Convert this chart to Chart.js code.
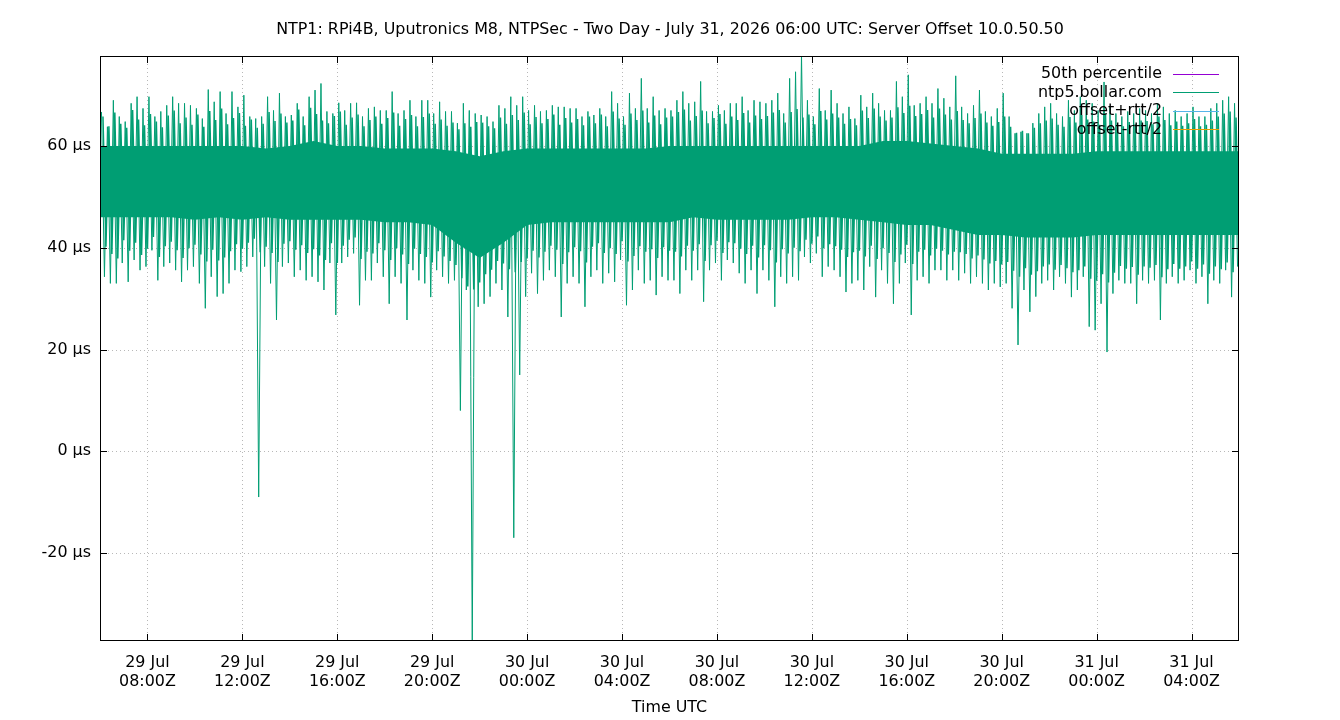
<!DOCTYPE html>
<html><head><meta charset="utf-8">
<script src="https://cdn.jsdelivr.net/npm/chart.js@4.4.1/dist/chart.umd.min.js"></script>
<style>html,body{margin:0;padding:0;background:#fff;}#wrap{width:1340px;height:720px;}</style>
</head><body><div id="wrap"><canvas id="c" width="1340" height="720"></canvas></div>
<script>
const chartTitle = "NTP1: RPi4B, Uputronics M8, NTPSec - Two Day - July 31, 2026 06:00 UTC: Server Offset 10.0.50.50";
const xAxisTitle = "Time UTC";
const xTickHours = [2, 6, 10, 14, 18, 22, 26, 30, 34, 38, 42, 46]; // hours since 29 Jul 06:00Z
const xTickLabels = [["29 Jul","08:00Z"],["29 Jul","12:00Z"],["29 Jul","16:00Z"],["29 Jul","20:00Z"],
  ["30 Jul","00:00Z"],["30 Jul","04:00Z"],["30 Jul","08:00Z"],["30 Jul","12:00Z"],
  ["30 Jul","16:00Z"],["30 Jul","20:00Z"],["31 Jul","00:00Z"],["31 Jul","04:00Z"]];
const yTickValues = [-20, 0, 20, 40, 60];
const yUnit = " µs";
const legendNames = ["50th percentile", "ntp5.bollar.com", "offset+rtt/2", "offset-rtt/2"];
const legendColors = ["#9400d3", "#009e73", "#56b4e9", "#e69f00"];
const sampleStepHours = 0.25;

// ntp5.bollar.com offset (µs): extreme high / low sample in each 15-minute slot
const offsetHigh = [
 66.7,63.8,69,65.8,64.8,68.4,69.7,67.4,69.7,65.8,66.8,68,69.7,68.4,68.4,68,
 67.4,65.4,71.1,68.7,70.7,66.4,70.7,67.7,70,65.8,65.4,65.8,69.7,67,70.4,65.8,
 66.1,68.4,65.8,69.7,71,72.3,66.8,66.4,68.5,67,68.4,68.5,65.8,67.4,67.7,67,
 67,70.7,66.4,67,69,65.8,69,69,66.4,68.7,66.8,66.8,64.5,68.4,67,66.4,
 66.1,65.8,64.8,68,67.4,69.7,68,69.7,67,68,66.8,67,68,67.7,67.7,67.4,
 67.4,65.8,66.8,66.1,67.4,65.8,70.7,68.4,65.8,70.4,67.4,73.3,67.4,69.7,67,67.4,
 67,69,70.7,68.4,68.7,72.7,66.8,66.8,68,67,68.4,68.4,69.7,67,69,68.7,
 68.4,69,70.4,66.4,73.3,74.6,78,69,65.8,71.3,67,71,68.4,66.4,67.7,65.4,
 70,67.7,70.4,68.4,67,67,72.7,69.7,74,68,68.4,69.7,68.4,71.3,69.4,67.7,
 73.8,67.7,66.4,68,71,66.8,65.8,67.4,70.4,65.8,62.5,62.8,62.5,64.5,66.4,67.7,
 68.4,66.4,65.8,69,67,69.7,69,68.4,67,72.6,67.7,66.4,65.8,66.8,66.4,67.4,
 67,66.4,68.4,67.7,66.4,67,65.8,66.4,67.7,65.8,65.8,67.4,68.4,69,69.7,68.4
];
const offsetLow = [
 34.3,33,33,37,33.3,37.6,35.6,36.3,39.5,33.6,36.3,37,35.6,33.3,35.6,36.3,
 33,28.1,34.3,30.4,31,33,35.6,35.3,36.3,38.2,-9,36.3,33,25.8,36.3,37,
 34.3,35.6,33.6,34.3,33.3,31.7,37,26.8,37,38.2,38.9,28.7,33.6,33.6,37,34.3,
 29,34.3,33,25.8,35.6,33.6,33,30.3,35.6,34.3,33,33.6,8,31.7,-38,28.4,
 29,30.4,33,31.7,26.4,-17,15,30.4,35,31,33.6,35.6,34.3,26.4,33,34.3,
 33,28.4,34.3,35.6,33,35,33.3,37.6,28.7,31.7,35.6,33,33.6,30.7,34.3,33.6,
 33.6,31,35.6,33.6,35.6,29.4,35.6,37,33.6,37.6,37,35,33,35.6,31,35.6,
 33.6,28.4,34.3,33,34.3,33.6,38.2,37,38.9,34.3,36.3,35.6,34.3,31.3,33,33.6,
 31.7,36.3,30.3,35.6,33,29,33,37,26.8,33.6,34.3,33,35.6,35.6,33.6,35.6,
 33.6,35,33,34.3,33,31.7,33,32.3,33,28.1,20.9,31.7,27.4,30.4,33,33.6,
 31.7,34.3,33,30.3,31.7,34.3,24.5,23.8,29,19.5,31,33.6,33,33,29,33.6,
 33,33.6,25.8,33,34.3,33,33.6,35.6,33,34.3,29,33.6,33,35.6,30.3,36.3
];
// second-tier (typical) high / low in each 15-minute slot
const typicalHigh = [
 65.8,63.9,66.6,64.4,63.6,67.1,65.2,64.1,66.3,64.8,63.7,66,67,64.5,65.6,64.2,
 66.2,63.8,66.9,65.1,67.4,64.3,65.5,66.5,64,65.2,63.6,64.4,66.7,64.9,66.4,64.6,
 65,67.2,64.1,67.5,66.3,65,64.5,65.9,66.8,64.2,65.6,66.2,63.9,65.1,65.8,64.4,
 65.5,66.6,64,65.3,66.1,63.9,65.7,66.4,64.4,65.2,64,64.6,63.3,64.5,63.8,64.7,
 64.6,63.9,63.5,65.6,64.4,66.1,65.1,66.6,64.3,65.7,64.5,65.3,66.2,64.2,65.5,64.6,
 65.3,64.1,65.8,64.5,66.2,63.9,66.8,65.4,64.2,66.4,65.1,67,64.6,66,64.3,65.6,
 65.8,66.7,67.2,65,65.9,67,64.5,65.5,66.3,64.4,65.8,65.1,66.5,64.6,66,65.3,
 65.9,66.6,67.1,64.6,66.7,67.3,65.6,66.2,64.3,66.9,65.2,66.4,65.6,64.4,65.3,64.1,
 67,65.5,67.4,65.8,65,65.6,67.6,66.5,67.9,65.9,66.3,67.1,65.6,67.4,66.2,65.2,
 66.9,65.1,64.5,65.5,66.4,64.6,64,64.7,65.8,63.8,62.6,63,62.5,63.6,64.5,65,
 65.4,64.2,63.8,65.7,64.6,66.1,65.2,64.8,64.2,66.4,65,64.1,63.9,64.7,64.3,65,
 64.9,64.3,65.8,65.1,64.1,64.8,64,64.5,65.3,63.9,64.2,65,65.8,66.4,66.8,65.6
];
const typicalLow = [
 40.2,38.8,37.9,41.5,39.4,41,38.6,39.8,42.1,38.2,40.3,41.2,39.5,38,39.9,40.6,
 38.7,37.3,39.6,37.5,38.1,39.3,40.7,39.8,41,41.8,39.1,40.2,39,37.2,40.8,41.3,
 39.6,40.5,39,39.7,38.5,37.6,40.9,37,40.4,41.6,42,37.8,39.2,38.9,40.9,39.5,
 37.6,39.9,38.7,36.8,39.8,38.8,38.2,37.1,39.3,38.3,37.4,36.6,34,32.4,31.8,33.2,
 34.8,35.7,37.4,36.9,35.8,35.2,37.2,37.9,39.4,38.1,39.2,40.4,39.6,36.8,39.1,40.1,
 39.3,37.1,40.2,40.9,39,39.9,38.8,41.3,37.3,38.4,40.3,39.2,39.7,38,40.1,39.4,
 39.2,38.3,40.4,39.4,40.7,37.4,40.5,41.4,39,41.1,40.9,39.8,38.8,40.4,38.1,40.5,
 39.5,37.1,39.7,38.9,40,39.3,41.6,40.8,42.2,39.9,40.7,40.3,39.6,38.2,39.1,39.4,
 38.3,40.4,37.8,39.9,39,37.2,38.7,40.6,36.8,39.2,39.6,38.5,39.8,39.4,38.7,39.2,
 39.1,38.8,37.9,38.5,37.7,36.9,37.4,36.7,37.2,35.5,34.3,36,34.7,35.4,36.3,36.7,
 35.7,36.6,36,35.2,35.6,36.3,33.9,33.5,34.8,33.2,35.1,36.4,35.9,36.2,34.7,36.3,
 36.1,36.6,34.2,35.8,36.8,35.9,36.3,37.3,35.9,36.7,34.9,36.3,35.8,37.1,35.2,37.5
];
// fully dense core of the offset cloud, hourly
const coreHours = [0,1,2,3,4,5,6,7,8,9,10,11,12,13,14,15,16,17,18,19,20,21,22,23,24,25,26,27,28,29,30,31,32,33,34,35,36,37,38,39,40,41,42,43,44,45,46,47,48];
const coreUpper = [60,60,60,60,60,60,60,59.5,60,61,60,60,59.5,59.5,59.5,59,58,59,59.5,59.5,59.5,59.5,59.5,59.5,60,60,60,60,60,60,60,60,60,61,61,60.5,60,59.5,58.5,58.5,58.5,58.5,59,59,59,59,59,59,59];
const coreLower = [46,46,46,46,45.5,46,45.5,46,45.5,45.5,45.5,45.5,45,45,44.5,41,38,41,44.5,45,45,45,45,45,45,46,45.5,45.5,45.5,45.5,46,46,45.5,45,44.5,44.5,43.5,42.5,42.5,42,42,42,42.5,42.5,42.5,42.5,42.5,42.5,42.5];
const percentile50 = [];
const offsetPlusRtt = [];
const offsetMinusRtt = [];

const FONT = "DejaVu Sans";
const FS = 15.9;

const offsetPoints = [];
offsetHigh.forEach((v, i) => {
  offsetPoints.push({x: i * sampleStepHours + sampleStepHours * 0.25, y: v});
  offsetPoints.push({x: i * sampleStepHours + sampleStepHours * 0.75, y: offsetLow[i]});
});
const typicalPoints = [];
typicalHigh.forEach((v, i) => {
  typicalPoints.push({x: i * sampleStepHours + sampleStepHours * 0.5, y: v});
  typicalPoints.push({x: i * sampleStepHours + sampleStepHours * 1.0, y: typicalLow[i]});
});

const decor = {
  id: 'decor',
  beforeDatasetsDraw(chart) {
    const {ctx, chartArea: a, scales: {x, y}} = chart;
    ctx.save();
    ctx.strokeStyle = '#b8b8b8';
    ctx.lineWidth = 1;
    ctx.setLineDash([1, 3]);
    ctx.beginPath();
    xTickHours.forEach(v => { const px = Math.round(x.getPixelForValue(v)) + 0.5; ctx.moveTo(px, a.top); ctx.lineTo(px, a.bottom); });
    yTickValues.forEach(v => { const py = Math.round(y.getPixelForValue(v)) + 0.5; ctx.moveTo(a.left, py); ctx.lineTo(a.right, py); });
    ctx.stroke();
    ctx.restore();
  },
  afterDatasetsDraw(chart) {
    const {ctx, chartArea: a, scales: {x, y}} = chart;
    ctx.save();
    ctx.strokeStyle = '#000';
    ctx.lineWidth = 1;
    ctx.beginPath();
    xTickHours.forEach(v => { const px = Math.round(x.getPixelForValue(v)) + 0.5;
      ctx.moveTo(px, a.bottom); ctx.lineTo(px, a.bottom - 7); ctx.moveTo(px, a.top); ctx.lineTo(px, a.top + 7); });
    yTickValues.forEach(v => { const py = Math.round(y.getPixelForValue(v)) + 0.5;
      ctx.moveTo(a.left, py); ctx.lineTo(a.left + 7, py); ctx.moveTo(a.right, py); ctx.lineTo(a.right - 7, py); });
    ctx.stroke();
    ctx.strokeRect(Math.round(a.left) + 0.5, Math.round(a.top) + 0.5, Math.round(a.right - a.left) - 1, Math.round(a.bottom - a.top) - 1);
    ctx.restore();
  },
  afterDraw(chart) {
    const {ctx, chartArea: a} = chart;
    ctx.save();
    ctx.fillStyle = '#000';
    ctx.font = FS + 'px "' + FONT + '"';
    ctx.textBaseline = 'middle';
    ctx.textAlign = 'center';
    ctx.fillText(chartTitle, 670, 30);
    ctx.fillText(xAxisTitle, (a.left + a.right) / 2, 707.5);
    ctx.textAlign = 'right';
    legendNames.forEach((name, i) => {
      const ly = 74 + i * 18.65;
      ctx.fillStyle = '#000';
      ctx.fillText(name, a.right - 77, ly);
      ctx.strokeStyle = legendColors[i];
      ctx.lineWidth = 1;
      ctx.beginPath();
      ctx.moveTo(a.right - 66, Math.round(ly - 0.5) + 0.5);
      ctx.lineTo(a.right - 20, Math.round(ly - 0.5) + 0.5);
      ctx.stroke();
    });
    ctx.restore();
  }
};

Chart.defaults.font.family = FONT;
Chart.defaults.font.size = FS;
Chart.defaults.color = '#000';

new Chart(document.getElementById('c'), {
  type: 'line',
  data: {
    datasets: [
      { label: 'core-low', data: coreHours.map((h, i) => ({x: h, y: coreLower[i]})), borderWidth: 0, pointRadius: 0, fill: false, borderColor: 'rgba(0,0,0,0)' },
      { label: 'core-high', data: coreHours.map((h, i) => ({x: h, y: coreUpper[i]})), borderWidth: 0, pointRadius: 0, fill: '-1', backgroundColor: '#009e73', borderColor: 'rgba(0,0,0,0)' },
      { label: legendNames[0], data: percentile50, borderColor: legendColors[0], borderWidth: 1, pointRadius: 0 },
      { label: 'typical', data: typicalPoints, borderColor: legendColors[1], borderWidth: 1.5, pointRadius: 0, tension: 0 },
      { label: legendNames[1], data: offsetPoints, borderColor: legendColors[1], borderWidth: 1, pointRadius: 0, tension: 0 },
      { label: legendNames[2], data: offsetPlusRtt, borderColor: legendColors[2], borderWidth: 1, pointRadius: 0 },
      { label: legendNames[3], data: offsetMinusRtt, borderColor: legendColors[3], borderWidth: 1, pointRadius: 0 }
    ]
  },
  options: {
    responsive: false,
    devicePixelRatio: 1,
    animation: false,
    events: [],
    layout: { padding: { left: 0, right: 101, top: 56, bottom: 0 } },
    plugins: { legend: { display: false }, title: { display: false }, tooltip: { enabled: false } },
    scales: {
      x: {
        type: 'linear', min: 0, max: 48,
        grid: { display: false, drawTicks: false },
        border: { display: false },
        afterFit: s => { s.height = 79; },
        afterBuildTicks: s => { s.ticks = xTickHours.map(v => ({value: v})); },
        ticks: { autoSkip: false, maxRotation: 0, padding: 13, font: { size: FS, lineHeight: 1.155 },
          callback: (v, i) => xTickLabels[i] }
      },
      y: {
        type: 'linear', min: -37.3, max: 77.7,
        grid: { display: false, drawTicks: false },
        border: { display: false },
        afterFit: s => { s.width = 100; },
        afterBuildTicks: s => { s.ticks = yTickValues.map(v => ({value: v})); },
        ticks: { padding: 9, callback: v => v + yUnit }
      }
    }
  },
  plugins: [decor]
});
</script>
</body></html>
